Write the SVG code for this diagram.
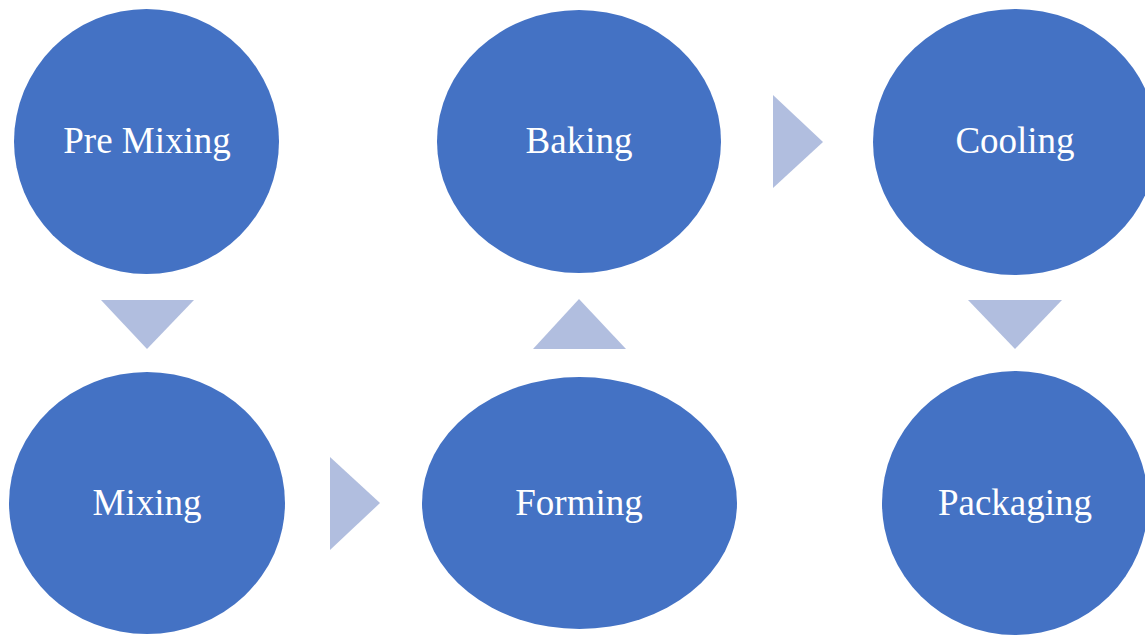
<svg xmlns="http://www.w3.org/2000/svg" width="1145" height="635" viewBox="0 0 1145 635">
<style>
.node{fill:#4472C4}
.lbl{font-family:"Liberation Serif","Times New Roman",serif;font-size:37px;fill:#FFFFFF;text-anchor:middle}
.arr{fill:#B1BEDF}
</style>
<rect width="1145" height="635" fill="#FFFFFF"/>
<g id="connectors">
<polygon class="arr" points="101,300 194,300 147,349"/>
<polygon class="arr" points="330,457 330,550 380,503"/>
<polygon class="arr" points="533,349 626,349 579,299"/>
<polygon class="arr" points="773,95 773,188 823,142"/>
<polygon class="arr" points="968,300 1062,300 1015,349"/>
</g>
<g id="pre-mixing"><ellipse class="node" cx="146.5" cy="141.5" rx="132.5" ry="132.5"/><text class="lbl" x="147" y="153">Pre Mixing</text></g>
<g id="mixing"><ellipse class="node" cx="147" cy="503" rx="138" ry="131"/><text class="lbl" x="147" y="515">Mixing</text></g>
<g id="forming"><ellipse class="node" cx="579.5" cy="503" rx="157.5" ry="126"/><text class="lbl" x="579" y="515">Forming</text></g>
<g id="baking"><ellipse class="node" cx="579" cy="141.5" rx="142" ry="131.5"/><text class="lbl" x="579" y="153">Baking</text></g>
<g id="cooling"><ellipse class="node" cx="1015" cy="142" rx="142" ry="133"/><text class="lbl" x="1015" y="153">Cooling</text></g>
<g id="packaging"><ellipse class="node" cx="1015" cy="503" rx="133" ry="132"/><text class="lbl" x="1015" y="515">Packaging</text></g>
</svg>
